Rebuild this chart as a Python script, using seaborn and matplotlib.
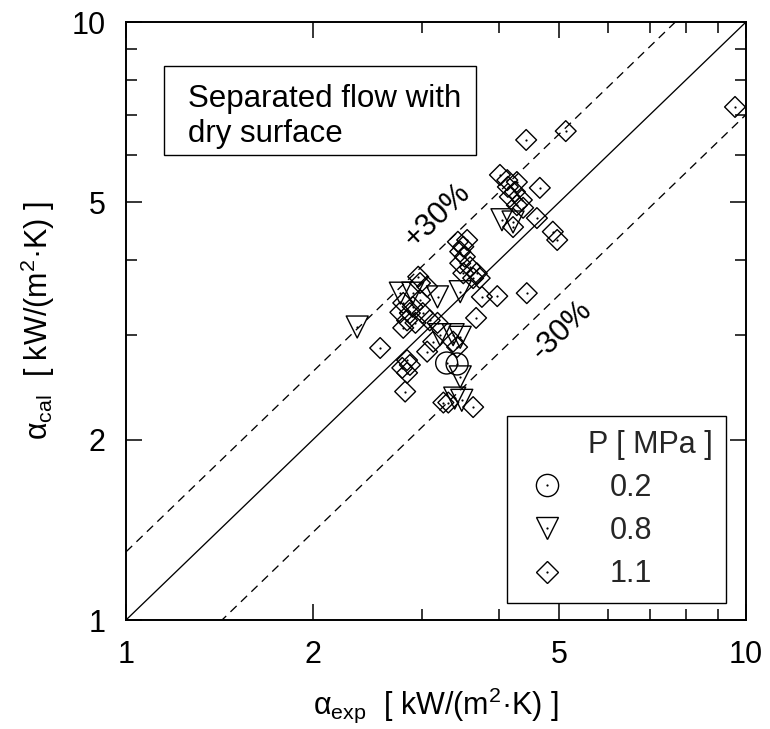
import matplotlib
matplotlib.use("Agg")
import numpy as np
import pandas as pd
import matplotlib.pyplot as plt
from matplotlib.lines import Line2D
from matplotlib.patches import Rectangle
from matplotlib.ticker import FixedLocator, FixedFormatter, NullFormatter
import seaborn as sns

# Measured vs. calculated heat transfer coefficient, kW/(m2 K)
# P = 0.2 MPa
exp_p02 = [3.29, 3.42]
cal_p02 = [2.69, 2.68]

# P = 0.8 MPa
exp_p08 = [2.36, 2.77, 2.90, 3.18, 3.21, 3.37, 3.46, 3.46, 3.46, 3.39, 3.48, 4.04, 4.21]
cal_p08 = [3.09, 3.52, 3.52, 3.47, 3.00, 3.00, 2.97, 3.54, 2.55, 2.35, 2.33, 4.67, 4.63]

# P = 1.1 MPa
exp_p11 = [9.60, 5.12, 4.42, 4.65, 4.60, 4.88, 4.96,
           4.01, 4.12, 4.27, 4.13, 4.24, 4.16, 4.35, 4.27, 4.37, 4.21,
           3.43, 3.50, 3.55, 3.46, 3.52, 3.46, 3.59, 3.50, 3.68, 3.63, 3.72,
           3.75, 3.97, 4.43, 3.67,
           2.96, 3.06, 2.98, 2.80, 2.90, 2.77, 3.01, 2.84, 2.93, 2.80, 3.09,
           3.18, 2.87, 2.98, 2.57,
           3.13, 3.06, 3.37, 3.42, 2.84, 2.87, 2.79, 2.84, 2.82, 3.25, 3.31, 3.63]
cal_p11 = [7.21, 6.57, 6.35, 5.28, 4.70, 4.46, 4.32,
           5.55, 5.44, 5.40, 5.30, 5.20, 5.10, 5.04, 4.94, 4.89, 4.54,
           4.29, 4.21, 4.32, 4.13, 4.05, 3.95, 3.89, 3.80, 3.80, 3.73, 3.73,
           3.47, 3.48, 3.52, 3.20,
           3.75, 3.61, 3.66, 3.39, 3.34, 3.27, 3.26, 3.17, 3.14, 3.08, 3.17,
           3.14, 3.26, 3.43, 2.85,
           2.92, 2.81, 2.92, 2.86, 2.72, 2.67, 2.64, 2.59, 2.41, 2.31, 2.31, 2.27]

pressure_labels = ["0.2", "0.8", "1.1"]
deviation_bands = [1.3, 0.7]          # +30 % / -30 %
axis_range = [1, 10]
major_ticks = [1, 2, 5, 10]
major_tick_labels = ["1", "2", "5", "10"]
minor_ticks = [3, 4, 6, 7, 8, 9]

df = pd.DataFrame({
    "alpha_exp": exp_p02 + exp_p08 + exp_p11,
    "alpha_cal": cal_p02 + cal_p08 + cal_p11,
    "P": ([pressure_labels[0]] * len(exp_p02) + [pressure_labels[1]] * len(exp_p08)
          + [pressure_labels[2]] * len(exp_p11)),
})

sns.set_theme(style="ticks")
plt.rcParams["font.family"] = ["Liberation Sans", "DejaVu Sans"]
plt.rcParams["mathtext.fontset"] = "custom"
plt.rcParams["mathtext.rm"] = "Liberation Sans"
plt.rcParams["mathtext.it"] = "Liberation Sans:italic"
plt.rcParams["mathtext.bf"] = "Liberation Sans:bold"

FS = 22

fig = plt.figure(figsize=(7.7, 7.29), dpi=100)
ax = fig.add_axes([126 / 770, 1 - 620 / 729, 620 / 770, 598 / 729])
ax.set_xscale("log")
ax.set_yscale("log")

# 1:1 line and +/-30 % bands
xs = np.array(axis_range, dtype=float)
ax.plot(xs, xs, color="black", lw=0.95, zorder=1)
for f in deviation_bands:
    ax.plot(xs, f * xs, color="black", lw=0.95, dashes=(6.5, 4.5), zorder=1)

marker_map = {"0.2": "o", "0.8": "v", "1.1": "D"}
size_map = {"0.2": 250, "0.8": 250, "1.1": 112}

sns.scatterplot(data=df, x="alpha_exp", y="alpha_cal", style="P", size="P",
                markers=marker_map, sizes=size_map, style_order=pressure_labels,
                size_order=pressure_labels, facecolor="none", edgecolor="black",
                linewidth=1.0, legend=False, ax=ax, zorder=3)
# small dot at the centre of each symbol
sns.scatterplot(data=df, x="alpha_exp", y="alpha_cal", marker="o", s=2.5,
                color="black", linewidth=0, legend=False, ax=ax, zorder=4)

ax.set_xlim(axis_range)
ax.set_ylim(axis_range)

for axis in (ax.xaxis, ax.yaxis):
    axis.set_major_locator(FixedLocator(major_ticks))
    axis.set_major_formatter(FixedFormatter(major_tick_labels))
    axis.set_minor_locator(FixedLocator(minor_ticks))
    axis.set_minor_formatter(NullFormatter())

ax.tick_params(which="both", direction="in", top=True, right=True,
               colors="black", labelsize=FS, width=1.1, pad=14.5)
ax.tick_params(which="major", length=11.5)
ax.tick_params(which="minor", length=7.7)
for sp in ax.spines.values():
    sp.set_linewidth(1.4)
    sp.set_color("black")

ax.set_xlabel("α$_{\\mathrm{exp}}$  [ kW/(m$^{2}$·K) ]", fontsize=FS, color="black", labelpad=11)
ax.set_ylabel("α$_{\\mathrm{cal}}$  [ kW/(m$^{2}$·K) ]", fontsize=FS, color="black", labelpad=10.5)

# condition box
ax.add_patch(Rectangle((0.0613, 0.7776), 0.5032, 0.1488, transform=ax.transAxes,
                       facecolor="white", edgecolor="black", lw=1.0, zorder=5))
ax.text(0.1, 0.842, "Separated flow with\ndry surface", transform=ax.transAxes,
        ha="left", va="center", fontsize=22.5, linespacing=1.2, color="black", zorder=6)

ax.text(3.175, 4.74, "+30%", rotation=44, rotation_mode="anchor", ha="center",
        va="center", fontsize=FS, color="black", zorder=6)
ax.text(5.05, 3.05, "-30%", rotation=44, rotation_mode="anchor", ha="center",
        va="center", fontsize=FS, color="black", zorder=6)

# legend
def handle(marker, ms):
    return (Line2D([], [], ls="none", marker=marker, ms=ms, mfc="none",
                   mec="black", mew=1.0),
            Line2D([], [], ls="none", marker="o", ms=1.6, mfc="black", mec="none"))

handles = [handle("o", 16), handle("v", 16), handle("D", 11.3)]
leg = ax.legend(handles, pressure_labels, title="P [ MPa ]", loc="upper left",
                bbox_to_anchor=(0.6145, 0.043, 0.354, 0.298), mode="expand",
                alignment="right",
                fontsize=FS, title_fontsize=FS, frameon=True, fancybox=False,
                edgecolor="black", framealpha=1, borderpad=0.45, borderaxespad=0,
                handlelength=1.7, handletextpad=1.2, labelspacing=0.43)
leg.get_frame().set_linewidth(1.0)
leg.set_zorder(7)

fig.savefig("out.png", dpi=100)
